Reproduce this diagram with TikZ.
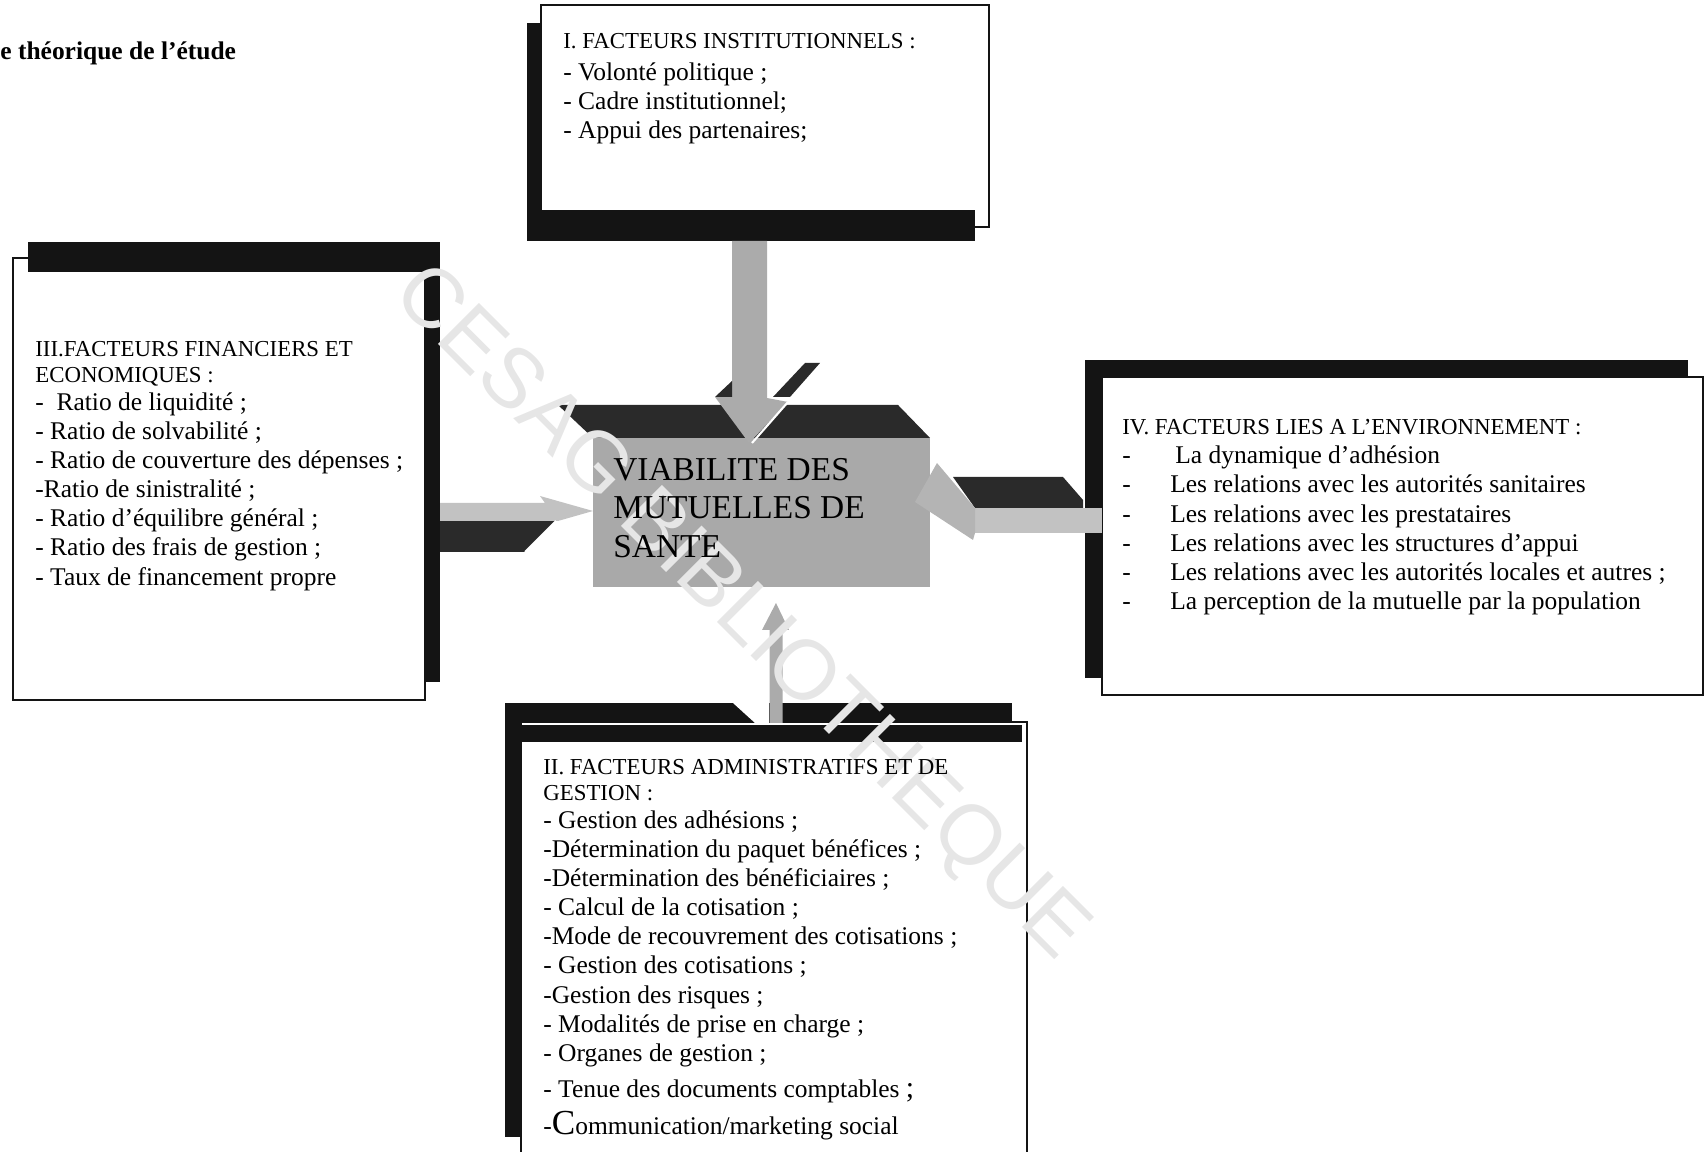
\documentclass[tikz,border=0pt]{standalone}
\usepackage{fontspec}
\setmainfont{Liberation Serif}
\newfontfamily\wmfont{Liberation Sans}
\usepackage{tikz}
\definecolor{inkblack}{HTML}{141414}
\definecolor{blockgrey}{HTML}{A9A9A9}
\definecolor{facedark}{HTML}{2A2A2A}
\definecolor{arrowgrey}{HTML}{ABABAB}
\definecolor{lightgrey}{HTML}{C2C2C2}
\definecolor{headgrey}{HTML}{B4B4B4}
\definecolor{wmgrey}{HTML}{E6E6E6}
\newcommand{\hdr}{\fontsize{13}{14.8}\selectfont}
\newcommand{\dashtab}{\makebox[0.96cm][l]{-}}

\begin{document}
\begin{tikzpicture}[x=1cm,y=1cm,
    panel/.style={draw=inkblack,fill=white,line width=0.6pt,inner sep=0pt,outer sep=0pt},
    boxtext/.style={anchor=north west,align=left,inner sep=0pt,font=\fontsize{14.5}{16.6}\selectfont}]
  \useasboundingbox (0,0) rectangle (34.08,23.04);
  \node[anchor=base west,inner sep=0pt,font=\bfseries\fontsize{14.5}{16}\selectfont] (title) at (0,21.84) {e théorique de l’étude};
  % I. institutional factors (top)
  \fill[inkblack] (10.54,18.22) rectangle (19.50,22.58);
  \node[panel,minimum width=8.96cm,minimum height=4.44cm] (inst) at (15.30,20.72) {};
  \fill[inkblack] (10.82,18.50) rectangle (19.50,18.84);
  % III. financial factors (left)
  \fill[inkblack] (0.56,9.40) rectangle (8.80,18.20);
  \node[panel,minimum width=8.24cm,minimum height=8.84cm] (fin) at (4.38,13.46) {};
  \fill[inkblack] (0.56,17.60) rectangle (8.50,17.88);
  % IV. environment (right)
  \fill[inkblack] (21.70,9.48) rectangle (33.76,15.84);
  \node[panel,minimum width=12.02cm,minimum height=6.36cm] (env) at (28.05,12.32) {};
  % II. administrative factors (bottom)
  \fill[inkblack] (10.10,0.30) rectangle (20.24,8.98);
  \node[panel,minimum width=10.12cm,minimum height=8.76cm] (adm) at (15.48,4.22) {};
  \fill[inkblack] (10.42,8.20) rectangle (20.44,8.54);
  % arrow from II
  \fill[white] (14.66,8.98) -- (15.38,8.98) -- (15.38,8.58) -- (15.10,8.58) -- cycle;
  \fill[arrowgrey] (15.39,8.58) -- (15.65,8.58) -- (15.65,10.44) -- (15.78,10.44) -- (15.52,10.98)
    -- (15.24,10.44) -- (15.39,10.44) -- cycle;
  % arrow from III
  \fill[facedark] (8.80,12.62) -- (11.12,12.62) -- (10.50,12.00) -- (8.80,12.00) -- cycle;
  \fill[lightgrey] (8.80,12.98) -- (10.90,12.98) -- (10.80,13.12) -- (11.86,12.82) -- (11.16,12.62)
    -- (8.80,12.62) -- cycle;
  \draw[white,line width=1.2pt] (11.12,12.62) -- (10.50,12.00);
  % arrow from IV
  \fill[facedark] (19.06,13.50) -- (21.26,13.50) -- (21.66,13.04) -- (21.66,12.88) -- (19.50,12.88) -- cycle;
  \fill[lightgrey] (19.50,12.88) rectangle (22.04,12.38);
  % central block
  \fill[facedark] (11.16,14.94) -- (17.96,14.94) -- (18.60,14.28) -- (11.86,14.28) -- cycle;
  \node[fill=blockgrey,minimum width=6.74cm,minimum height=2.98cm,inner sep=0pt] (viab) at (15.23,12.79) {};
  \fill[headgrey] (18.30,13.00) -- (18.74,13.78) -- (19.50,12.88) -- (19.50,12.38) -- (19.46,12.24) -- cycle;
  % arrow from I
  \fill[facedark] (15.46,15.10) -- (16.10,15.78) -- (16.40,15.78) -- (15.80,15.10) -- cycle;
  \fill[arrowgrey] (14.64,18.22) -- (15.34,18.22) -- (15.34,15.08) -- (15.76,15.00) -- (14.98,14.18)
    -- (14.30,15.10) -- (14.64,15.10) -- cycle;
  \fill[facedark] (14.30,15.10) -- (14.64,15.42) -- (14.64,15.10) -- cycle;
  \draw[white,line width=1.2pt] (15.76,15.00) -- (15.04,14.18);
  % watermark
  \node[rotate=-45,text=wmgrey,font=\wmfont\fontsize{48}{48}\selectfont,inner sep=0pt] (stamp) at (14.78,10.76) {CESAG BIBLIOTHEQUE};
  % texts
  \node[anchor=north west,align=left,inner sep=0pt,font=\fontsize{19}{21.9}\selectfont] (viabTxt) at (12.26,13.88) {VIABILITE DES\\MUTUELLES DE\\SANTE};
  \node[boxtext] (instTxt) at (11.26,22.38) {{\hdr I. FACTEURS INSTITUTIONNELS :}\\[1.6pt]- Volonté politique ;\\- Cadre institutionnel;\\- Appui des partenaires;};
  \node[boxtext] (finTxt) at (0.70,16.22) {{\hdr III.FACTEURS FINANCIERS ET}\\[-2pt]{\hdr ECONOMIQUES :}\\[-0.7pt]-\ \ Ratio de liquidité ;\\- Ratio de solvabilité ;\\- Ratio de couverture des dépenses ;\\-Ratio de sinistralité ;\\- Ratio d’équilibre général ;\\- Ratio des frais de gestion ;\\- Taux de financement propre};
  \node[boxtext] (envTxt) at (22.44,14.66) {{\hdr IV. FACTEURS LIES A L’ENVIRONNEMENT :}\\\dashtab\hspace{0.1cm}La dynamique d’adhésion\\\dashtab Les relations avec les autorités sanitaires\\\dashtab Les relations avec les prestataires\\\dashtab Les relations avec les structures d’appui\\\dashtab Les relations avec les autorités locales et autres ;\\\dashtab La perception de la mutuelle par la population};
  \node[boxtext] (admTxt) at (10.86,7.86) {{\hdr II. FACTEURS ADMINISTRATIFS ET DE}\\[-2pt]{\hdr GESTION :}\\[-0.7pt]- Gestion des adhésions ;\\-Détermination du paquet bénéfices ;\\-Détermination des bénéficiaires ;\\- Calcul de la cotisation ;\\-Mode de recouvrement des cotisations ;\\- Gestion des cotisations ;\\-Gestion des risques ;\\- Modalités de prise en charge ;\\- Organes de gestion ;\\[3.8pt]- Tenue des documents comptables {\fontsize{17}{17}\selectfont ;}\\[4.4pt]-{\fontsize{20}{20}\selectfont C}ommunication/marketing social};
\end{tikzpicture}
\end{document}
